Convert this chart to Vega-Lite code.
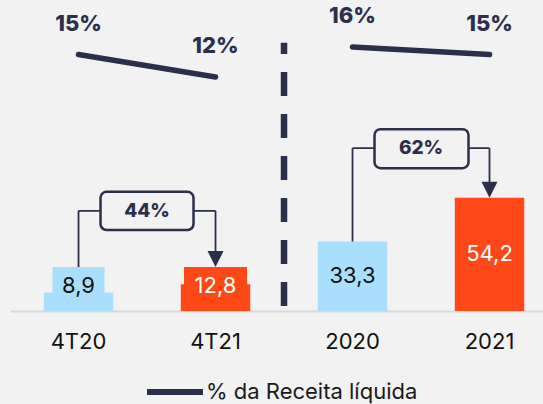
{
  "$schema": "https://vega.github.io/schema/vega-lite/v6.json",
  "width": 533,
  "height": 311,
  "autosize": "none",
  "padding": {"left": 10, "top": 0, "right": 0, "bottom": 93},
  "background": "#f2f2f2",
  "data": {"values": [{}]},
  "config": {
    "view": {"stroke": null},
    "font": "Inter",
    "legend": {
      "orient": "none",
      "legendX": 134,
      "legendY": 361,
      "symbolType": "stroke",
      "symbolSize": 3136,
      "symbolStrokeWidth": 6,
      "labelFontSize": 22,
      "labelColor": "#1a1a1a",
      "labelFont": "Inter",
      "labelOffset": 0,
      "labelLimit": 400,
      "padding": 0
    }
  },
  "datasets": {
    "barras": [
      {"periodo": "4T20", "valor": 8.9, "rotulo": "8,9", "tipo": "anterior", "grupo": "trimestre"},
      {"periodo": "4T21", "valor": 12.8, "rotulo": "12,8", "tipo": "atual", "grupo": "trimestre"},
      {"periodo": "2020", "valor": 33.3, "rotulo": "33,3", "tipo": "anterior", "grupo": "ano"},
      {"periodo": "2021", "valor": 54.2, "rotulo": "54,2", "tipo": "atual", "grupo": "ano"}
    ],
    "margem": [
      {"periodo": "4T20", "pct": 15, "rotulo": "15%", "grupo": "trimestre", "serie": "% da Receita líquida"},
      {"periodo": "4T21", "pct": 12, "rotulo": "12%", "grupo": "trimestre", "serie": "% da Receita líquida"},
      {"periodo": "2020", "pct": 16, "rotulo": "16%", "grupo": "ano", "serie": "% da Receita líquida"},
      {"periodo": "2021", "pct": 15, "rotulo": "15%", "grupo": "ano", "serie": "% da Receita líquida"}
    ]
  },
  "resolve": {"scale": {"y": "independent"}},
  "layer": [
    {
      "data": {"name": "barras"},
      "mark": {"type": "bar"},
      "encoding": {
        "x": {
          "field": "periodo", "type": "nominal",
          "scale": {"domain": ["4T20", "4T21", "2020", "2021"], "paddingInner": 0.493, "paddingOuter": 0.1918, "align": 0.643},
          "axis": {"title": null, "labelAngle": 0, "labelFontSize": 22, "labelColor": "#111111", "labelFont": "Inter", "domainColor": "#d9d9d9", "domainWidth": 2, "ticks": false, "labelPadding": 20}
        },
        "y": {"field": "valor", "type": "quantitative", "scale": {"domain": [0, 149]}, "axis": null},
        "color": {"field": "tipo", "type": "nominal", "scale": {"domain": ["anterior", "atual"], "range": ["#a9dffd", "#ff4817"]}, "legend": null}
      }
    },
    {
      "data": {"name": "barras"},
      "transform": [{"filter": "datum.grupo == 'trimestre'"}],
      "mark": {"type": "bar"},
      "encoding": {
        "x": {"field": "periodo", "type": "nominal"},
        "y": {"datum": 21.05, "type": "quantitative", "scale": {"domain": [0, 149]}, "axis": null},
        "y2": {"datum": 0},
        "size": {"condition": {"test": "datum.periodo == '4T21'", "value": 63}, "value": 52},
        "color": {"field": "tipo", "type": "nominal", "legend": null}
      }
    },
    {
      "data": {"name": "barras"},
      "transform": [{"filter": "datum.grupo == 'ano'"}],
      "mark": {"type": "text", "fontSize": 22, "baseline": "middle", "font": "Inter"},
      "encoding": {
        "x": {"field": "periodo", "type": "nominal", "bandPosition": 0.5},
        "y": {"field": "valor", "type": "quantitative", "scale": {"domain": [0, 298]}, "axis": null},
        "text": {"field": "rotulo"},
        "color": {"condition": {"test": "datum.tipo == 'atual'", "value": "#ffffff"}, "value": "#111111"}
      }
    },
    {
      "data": {"name": "barras"},
      "transform": [{"filter": "datum.grupo == 'trimestre'"}],
      "mark": {"type": "text", "fontSize": 22, "baseline": "middle", "font": "Inter"},
      "encoding": {
        "x": {"field": "periodo", "type": "nominal", "bandPosition": 0.5},
        "y": {"datum": 12, "type": "quantitative", "scale": {"domain": [0, 149]}, "axis": null},
        "text": {"field": "rotulo"},
        "color": {"condition": {"test": "datum.tipo == 'atual'", "value": "#ffffff"}, "value": "#111111"}
      }
    },
    {
      "data": {"name": "margem"},
      "mark": {"type": "line", "strokeWidth": 5.5, "strokeCap": "round"},
      "encoding": {
        "x": {"field": "periodo", "type": "nominal", "bandPosition": 0.5},
        "y": {"field": "pct", "type": "quantitative", "scale": {"domain": [-19.2, 22.27]}, "axis": null},
        "detail": {"field": "grupo"},
        "stroke": {"field": "serie", "type": "nominal", "scale": {"range": ["#2b2f4b"]}, "legend": {"title": null}}
      }
    },
    {
      "data": {"name": "margem"},
      "mark": {"type": "text", "fontSize": 22, "fontWeight": 800, "font": "Inter", "baseline": "middle", "dy": -31, "color": "#2b2f4b"},
      "encoding": {
        "x": {"field": "periodo", "type": "nominal", "bandPosition": 0.5},
        "y": {"field": "pct", "type": "quantitative", "scale": {"domain": [-19.2, 22.27]}, "axis": null},
        "text": {"field": "rotulo"}
      }
    },
    {
      "mark": {"type": "rule", "color": "#2b2f4b", "strokeWidth": 6.5, "strokeDash": [24, 18], "strokeDashOffset": 37, "xOffset": 68.5},
      "encoding": {
        "x": {"datum": "4T21", "type": "nominal", "bandPosition": 0.5},
        "y": {"datum": 0, "type": "quantitative", "scale": {"domain": [0, 149]}, "axis": null},
        "y2": {"datum": 128.5}
      }
    },
    {
      "mark": {"type": "rule", "color": "#2b2f4b", "strokeWidth": 1.8},
      "encoding": {
        "x": {"datum": "4T20", "type": "nominal", "bandPosition": 0.5},
        "x2": {"datum": "4T21", "bandPosition": 0.5},
        "y": {"datum": 48, "type": "quantitative", "scale": {"domain": [0, 149]}, "axis": null}
      }
    },
    {
      "mark": {"type": "rule", "color": "#2b2f4b", "strokeWidth": 1.8},
      "encoding": {
        "x": {"datum": "4T20", "type": "nominal", "bandPosition": 0.5},
        "y": {"datum": 48, "type": "quantitative", "scale": {"domain": [0, 149]}, "axis": null},
        "y2": {"datum": 21.05}
      }
    },
    {
      "mark": {"type": "rule", "color": "#2b2f4b", "strokeWidth": 1.8},
      "encoding": {
        "x": {"datum": "4T21", "type": "nominal", "bandPosition": 0.5},
        "y": {"datum": 48, "type": "quantitative", "scale": {"domain": [0, 149]}, "axis": null},
        "y2": {"datum": 28}
      }
    },
    {
      "mark": {"type": "point", "shape": "M-1,-1L1,-1L0,1Z", "filled": true, "color": "#2b2f4b", "opacity": 1, "size": 256, "yOffset": -8},
      "encoding": {
        "x": {"datum": "4T21", "type": "nominal", "bandPosition": 0.5},
        "y": {"datum": 21.05, "type": "quantitative", "scale": {"domain": [0, 149]}, "axis": null}
      }
    },
    {
      "mark": {"type": "rect", "fill": "#f2f2f2", "stroke": "#2b2f4b", "strokeWidth": 2.5, "cornerRadius": 6, "xOffset": 22, "x2Offset": -22},
      "encoding": {
        "x": {"datum": "4T20", "type": "nominal", "bandPosition": 0.5},
        "x2": {"datum": "4T21", "bandPosition": 0.5},
        "y": {"datum": 57.1, "type": "quantitative", "scale": {"domain": [0, 149]}, "axis": null},
        "y2": {"datum": 38.8}
      }
    },
    {
      "mark": {"type": "text", "fontSize": 19, "fontWeight": 800, "font": "Inter", "color": "#2b2f4b", "baseline": "middle", "xOffset": 68.5},
      "encoding": {
        "x": {"datum": "4T20", "type": "nominal", "bandPosition": 0.5},
        "y": {"datum": 47.9, "type": "quantitative", "scale": {"domain": [0, 149]}, "axis": null},
        "text": {"value": "44%"}
      }
    },
    {
      "mark": {"type": "rule", "color": "#2b2f4b", "strokeWidth": 1.8},
      "encoding": {
        "x": {"datum": "2020", "type": "nominal", "bandPosition": 0.5},
        "x2": {"datum": "2021", "bandPosition": 0.5},
        "y": {"datum": 78, "type": "quantitative", "scale": {"domain": [0, 149]}, "axis": null}
      }
    },
    {
      "mark": {"type": "rule", "color": "#2b2f4b", "strokeWidth": 1.8},
      "encoding": {
        "x": {"datum": "2020", "type": "nominal", "bandPosition": 0.5},
        "y": {"datum": 78, "type": "quantitative", "scale": {"domain": [0, 149]}, "axis": null},
        "y2": {"datum": 33.3}
      }
    },
    {
      "mark": {"type": "rule", "color": "#2b2f4b", "strokeWidth": 1.8},
      "encoding": {
        "x": {"datum": "2021", "type": "nominal", "bandPosition": 0.5},
        "y": {"datum": 78, "type": "quantitative", "scale": {"domain": [0, 149]}, "axis": null},
        "y2": {"datum": 61.7}
      }
    },
    {
      "mark": {"type": "point", "shape": "M-1,-1L1,-1L0,1Z", "filled": true, "color": "#2b2f4b", "opacity": 1, "size": 256, "yOffset": -8},
      "encoding": {
        "x": {"datum": "2021", "type": "nominal", "bandPosition": 0.5},
        "y": {"datum": 54.2, "type": "quantitative", "scale": {"domain": [0, 149]}, "axis": null}
      }
    },
    {
      "mark": {"type": "rect", "fill": "#f2f2f2", "stroke": "#2b2f4b", "strokeWidth": 2.5, "cornerRadius": 6, "xOffset": 22, "x2Offset": -21},
      "encoding": {
        "x": {"datum": "2020", "type": "nominal", "bandPosition": 0.5},
        "x2": {"datum": "2021", "bandPosition": 0.5},
        "y": {"datum": 87.1, "type": "quantitative", "scale": {"domain": [0, 149]}, "axis": null},
        "y2": {"datum": 68.4}
      }
    },
    {
      "mark": {"type": "text", "fontSize": 19, "fontWeight": 800, "font": "Inter", "color": "#2b2f4b", "baseline": "middle", "xOffset": 68.5},
      "encoding": {
        "x": {"datum": "2020", "type": "nominal", "bandPosition": 0.5},
        "y": {"datum": 78, "type": "quantitative", "scale": {"domain": [0, 149]}, "axis": null},
        "text": {"value": "62%"}
      }
    }
  ]
}
